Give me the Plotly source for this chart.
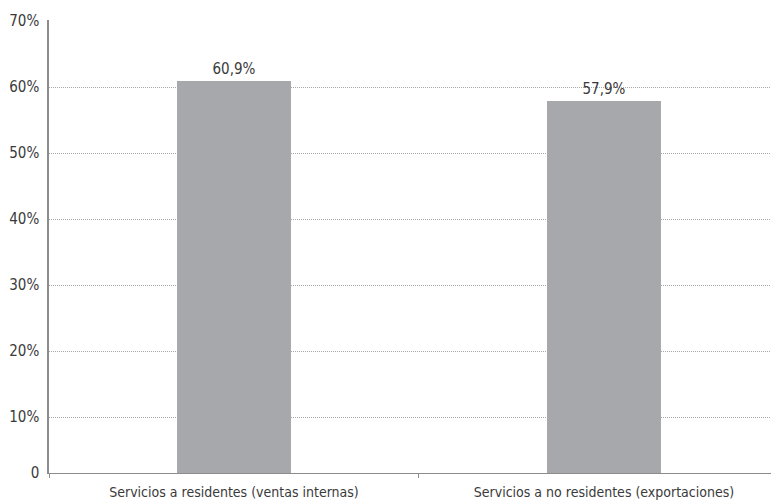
import plotly.graph_objects as go

categories = ["Servicios a residentes (ventas internas)", "Servicios a no residentes (exportaciones)"]
values = [60.9, 57.9]
y_min = 1.55
y_max = 70.15
tick_vals = [y_min, 10, 20, 30, 40, 50, 60, 70]
tick_text = ["0", "10%", "20%", "30%", "40%", "50%", "60%", "70%"]

FONT = "DejaVu Sans Condensed, Liberation Sans Narrow, Arial Narrow, sans-serif"

fig = go.Figure(go.Bar(
    x=categories, y=values,
    marker=dict(color="#a7a8ab", line=dict(width=0)),
    width=0.308,
    texttemplate="%{y:.1f}%", textposition="outside",
    textfont=dict(family=FONT, size=15, color="#3a3a3a"),
    cliponaxis=False,
))

fig.update_layout(
    width=771, height=495,
    margin=dict(l=41, r=0, t=12, b=30),
    plot_bgcolor="white", paper_bgcolor="white",
    separators=",.",
    showlegend=False,
    font=dict(family=FONT, color="#3a3a3a"),
)
fig.update_xaxes(
    range=[-0.5, 1.473],
    automargin=False,
    showline=True, linecolor="#8c8c8c", linewidth=1,
    ticks="outside", tickson="boundaries", ticklen=4, tickcolor="#8c8c8c",
    showgrid=False, ticklabelstandoff=6,
    tickfont=dict(family=FONT, size=14, color="#3a3a3a"),
)
fig.update_yaxes(
    range=[y_min, y_max],
    automargin=False,
    tickvals=tick_vals, ticktext=tick_text,
    showline=True, linecolor="#8c8c8c", linewidth=1.5,
    showgrid=True, gridcolor="#a8a8a8", griddash="1px,1px", gridwidth=1,
    ticks="", ticklabelstandoff=5,
    tickfont=dict(family=FONT, size=15, color="#3a3a3a"),
    zeroline=False,
)

fig.write_html("out.html")
